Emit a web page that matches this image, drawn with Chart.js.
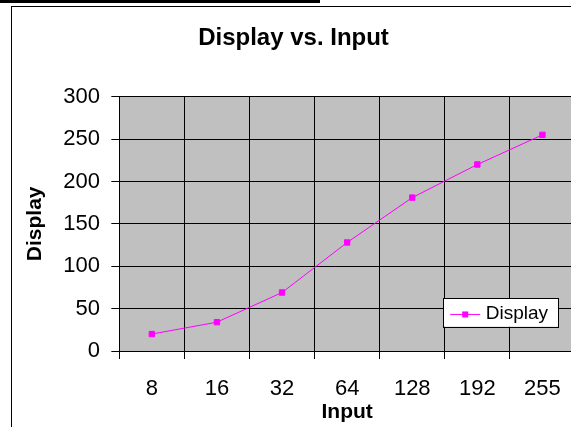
<!DOCTYPE html>
<html>
<head>
<meta charset="utf-8">
<script src="https://cdn.jsdelivr.net/npm/chart.js@4/dist/chart.umd.min.js"></script>
<style>
  html, body { margin: 0; padding: 0; background: #fff; overflow: hidden; width: 571px; height: 427px; }
  #topbar { position: absolute; left: 0; top: 0; width: 320px; height: 3px; background: #000; }
  #frame { position: absolute; left: 11px; top: 6px; width: 700px; height: 500px;
           border-left: 1px solid #000; border-top: 1px solid #000; }
  #chart { position: absolute; left: 12px; top: 7px; }
</style>
</head>
<body>
<div id="topbar"></div>
<div id="frame"></div>
<canvas id="chart" width="563" height="420"></canvas>
<script>
// Input levels and the resulting display values
const inputLevels = ['8', '16', '32', '64', '128', '192', '255'];
const displayValues = [20, 34, 69, 128, 181, 220, 255];
const seriesName = 'Display';

const MAGENTA = '#FF00FF';
const FONT = "'Liberation Sans', Arial, sans-serif";

// Gray plot background
const plotBackground = {
  id: 'plotBackground',
  beforeDraw(chart) {
    const { ctx, chartArea: a } = chart;
    ctx.save();
    ctx.fillStyle = '#C0C0C0';
    ctx.fillRect(a.left, a.top, a.right - a.left, a.bottom - a.top);
    ctx.restore();
  }
};

// Boxed legend sitting in the lower-right corner of the plot
const insetLegend = {
  id: 'insetLegend',
  afterDraw(chart) {
    const { ctx, chartArea: a } = chart;
    const ds = chart.data.datasets[0];
    ctx.save();
    ctx.font = '19px ' + FONT;
    const tw = ctx.measureText(ds.label).width;
    const padL = 7, lineLen = 30, gap = 5.5, padR = 10;
    const w = padL + lineLen + gap + tw + padR;
    const h = 28.5;
    const x = a.right - 17 - w;
    const y = a.bottom - 24.3 - h;
    ctx.fillStyle = '#fff';
    ctx.fillRect(x, y, w, h);
    ctx.strokeStyle = '#000';
    ctx.lineWidth = 1;
    ctx.strokeRect(Math.round(x) + 0.5, Math.round(y) + 0.5, Math.round(w), Math.round(h));
    const cy = y + h / 2 + 2;
    ctx.strokeStyle = ds.borderColor;
    ctx.beginPath();
    ctx.moveTo(x + padL, cy);
    ctx.lineTo(x + padL + lineLen, cy);
    ctx.stroke();
    ctx.fillStyle = ds.pointBackgroundColor;
    ctx.fillRect(x + padL + lineLen / 2 - 3, cy - 3, 6, 6);
    ctx.fillStyle = '#000';
    ctx.textBaseline = 'middle';
    ctx.textAlign = 'left';
    ctx.fillText(ds.label, x + padL + lineLen + gap, y + h / 2 + 1);
    ctx.restore();
  }
};

new Chart(document.getElementById('chart'), {
  type: 'line',
  data: {
    labels: inputLevels,
    datasets: [{
      label: seriesName,
      data: displayValues,
      borderColor: MAGENTA,
      borderWidth: 1,
      backgroundColor: MAGENTA,
      pointBackgroundColor: MAGENTA,
      pointBorderColor: MAGENTA,
      pointBorderWidth: 1,
      pointStyle: 'rect',
      pointRadius: 3.8,
      tension: 0,
      fill: false
    }]
  },
  options: {
    responsive: false,
    animation: false,
    devicePixelRatio: 1,
    layout: { padding: 0, autoPadding: false },
    plugins: {
      legend: { display: false },
      tooltip: { enabled: false },
      title: {
        display: true,
        text: 'Display vs. Input',
        color: '#000',
        font: { family: FONT, size: 24, weight: 'bold' },
        padding: { top: 17.2, bottom: 43.7 }
      }
    },
    scales: {
      x: {
        type: 'category',
        offset: true,
        grid: { offset: true, color: '#000', lineWidth: 1, tickLength: 8, drawTicks: true },
        border: { color: '#000', width: 1 },
        ticks: { color: '#000', font: { family: FONT, size: 22 }, padding: 16.7, maxRotation: 0, autoSkip: false },
        title: {
          display: true, text: 'Input', color: '#000',
          font: { family: FONT, size: 21, weight: 'bold' },
          padding: { top: 0, bottom: 2.6 }
        },
        afterFit(scale) {
          scale.height = 76;
          scale.paddingLeft = 0;
          scale.paddingRight = 0;
        }
      },
      y: {
        min: 0,
        max: 300,
        grid: { color: '#000', lineWidth: 1, tickLength: 8 },
        border: { color: '#000', width: 1 },
        ticks: { stepSize: 50, color: '#000', font: { family: FONT, size: 22 }, padding: 11.3 },
        title: {
          display: true, text: 'Display', color: '#000',
          font: { family: FONT, size: 21, weight: 'bold' },
          padding: { top: 11, bottom: 0 }
        },
        afterFit(scale) { scale.width = 107.3; }
      }
    }
  },
  plugins: [plotBackground, insetLegend]
});
</script>
</body>
</html>
